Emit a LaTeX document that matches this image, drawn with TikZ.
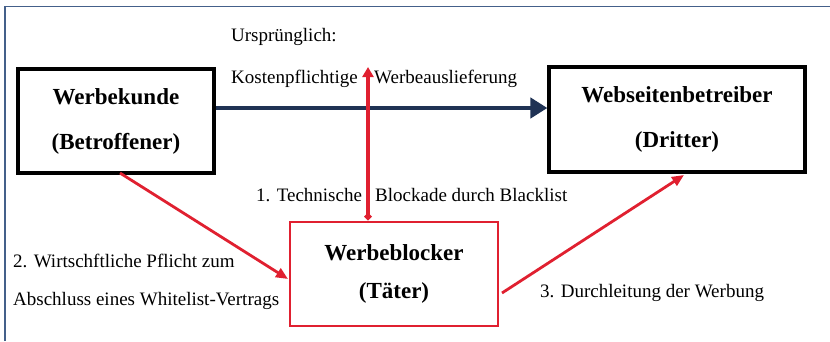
\documentclass[tikz,border=0pt]{standalone}
\usepackage{fontspec}
\setmainfont{Liberation Serif}
\usetikzlibrary{arrows.meta}
\definecolor{framec}{RGB}{68,96,138}
\definecolor{navy}{RGB}{31,50,84}
\definecolor{redc}{RGB}{224,32,48}
\tikzset{
  box/.style={draw=black, line width=3.2pt, rectangle, inner sep=0pt, align=center,
    font=\fontsize{23}{45}\selectfont\bfseries},
  redbox/.style={draw=redc, line width=2.8pt, rectangle, inner sep=0pt, align=center,
    font=\fontsize{23}{38}\selectfont\bfseries},
  lbl/.style={inner sep=0pt, font=\fontsize{19}{22}\selectfont, anchor=west},
  redarrow/.style={draw=redc, line width=2.8pt, -{Triangle[length=12pt,width=10pt]}},
  bluearrow/.style={draw=navy, line width=4.5pt, -{Triangle[length=17pt,width=20pt]}},
  frameline/.style={draw=framec, line width=1.8pt}
}
\begin{document}
\begin{tikzpicture}[x=1pt,y=-1pt]
\useasboundingbox (0,0) rectangle (830,341);
\coordinate (fa) at (5,341);
\coordinate (fb) at (5,6.5);
\coordinate (fc) at (830,6.5);
\draw[frameline] (fa) -- (fb) -- (fc);

\node[box, minimum width=196pt, minimum height=104pt] (wk) at (116,121) {Werbekunde\\(Betroffener)};
\node[box, minimum width=256pt, minimum height=105pt] (wb) at (677,119.5) {Webseitenbetreiber\\(Dritter)};
\node[redbox, minimum width=208pt, minimum height=104pt] (blk) at (394,274) {Werbeblocker\\(Täter)};

\node[lbl] (t0) at (231,37) {Ursprünglich:};
\node[lbl] (t1a) at (231,79) {Kostenpflichtige};
\node[lbl] (t1b) at (374,79) {Werbeauslieferung};
\node[lbl] (t2a) at (256,195) {1. Technische};
\node[lbl] (t2b) at (375,195) {Blockade durch Blacklist};
\node[lbl] (t3a) at (13,261) {2. Wirtschftliche Pflicht zum};
\node[lbl] (t3b) at (13,301) {Abschluss eines Whitelist-Vertrags};
\node[lbl] (t4) at (540,293) {3. Durchleitung der Werbung};

\draw[bluearrow] (wk.east |- 0,108) -- (wb.west |- 0,108);

\coordinate (top) at (368,67);
\draw[draw=redc, line width=3.5pt, {Diamond[length=8pt,width=8pt]}-{Triangle[length=10pt,width=11pt]}] (blk.north -| top) -- (top);

\coordinate (s2) at (120,173);
\coordinate (e2) at (288,279);
\draw[redarrow] (s2) -- (e2);
\coordinate (s3) at (502,293);
\coordinate (e3) at (684,175);
\draw[redarrow] (s3) -- (e3);
\end{tikzpicture}
\end{document}
